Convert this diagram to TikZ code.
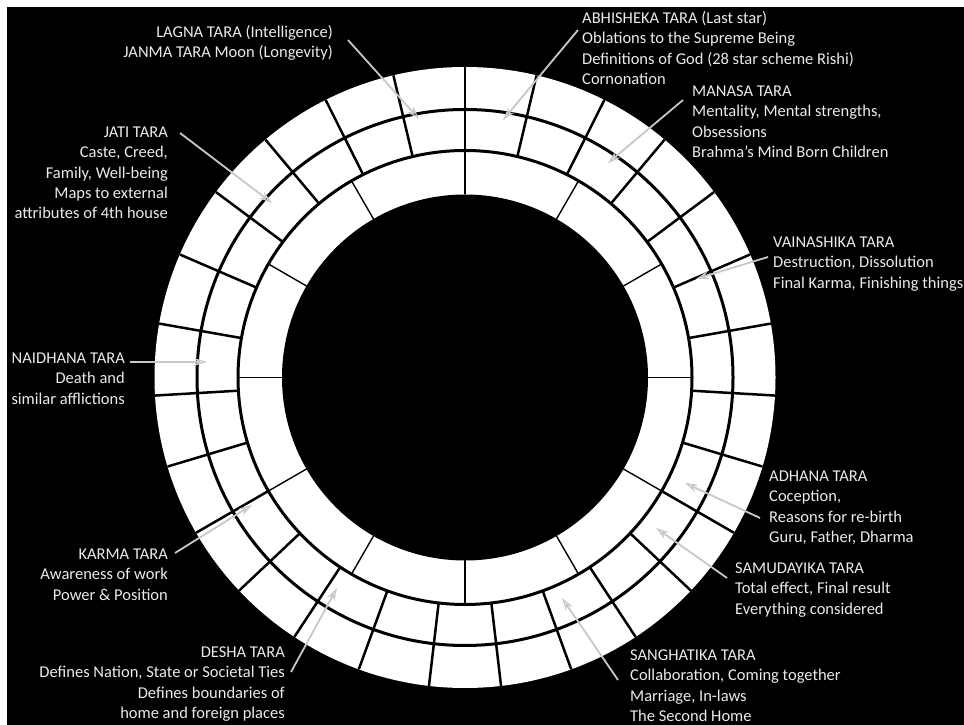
\documentclass[tikz,border=0pt]{standalone}
\usepackage{fontspec}
\setmainfont{Carlito}
\usetikzlibrary{arrows.meta}
\definecolor{txt}{HTML}{EBEBEB}
\definecolor{arr}{HTML}{C8C8C8}
\begin{document}
\begin{tikzpicture}[x=1pt,y=1pt,
  lbl/.style={inner sep=0pt, text=txt, font=\fontsize{16.5}{20.3}\selectfont},
  lblL/.style={lbl, anchor=north west, align=left},
  lblR/.style={lbl, anchor=north east, align=right},
  pointer/.style={draw=arr, line width=1.8pt, -{Stealth[open, length=13pt, width=8pt, line width=1.3pt]}},
  ringline/.style={line width=3pt},
  spoke/.style={line width=2.5pt},
  thinspoke/.style={line width=1.4pt}]
\useasboundingbox (0,0) rectangle (964,725);
\fill[white] (0,0) rectangle (964,725);
\fill[black] (7,0) rectangle (964,718);
\coordinate (C) at (465,347.5);
% wheel
\fill[white] (C) circle[radius=310.5];
\foreach \k in {0,...,26}{
  \draw[spoke] ([shift={({90+\k*360/27}:227)}]C) -- ([shift={({90+\k*360/27}:310.5)}]C);
}
\draw[ringline] (C) circle[radius=268];
\draw[ringline] (C) circle[radius=227];
\foreach \k in {0,...,11}{
  \draw[thinspoke] ([shift={(\k*30:183)}]C) -- ([shift={(\k*30:227)}]C);
}
\fill[black] (C) circle[radius=183];
% labels
\node[lblR] (lagna) at (333,702) {\strut LAGNA TARA (Intelligence)\\JANMA TARA Moon (Longevity)};
\node[lblL] (abhi) at (582,716) {\strut ABHISHEKA TARA (Last star)\\Oblations to the Supreme Being\\Definitions of God (28 star scheme Rishi)\\Cornonation};
\node[lblL] (manasa) at (692,643) {\strut MANASA TARA\\Mentality, Mental strengths,\\Obsessions\\Brahma’s Mind Born Children};
\node[lblR] (jati) at (168,602) {\strut JATI TARA\\Caste, Creed,\\Family, Well-being\\Maps to external\\attributes of 4th house};
\node[lblL] (vaina) at (773,492) {\strut VAINASHIKA TARA\\Destruction, Dissolution\\Final Karma, Finishing things};
\node[lblR] (naidh) at (125,376) {\strut NAIDHANA TARA\\Death and\\similar afflictions};
\node[lblL] (adhana) at (769,258) {\strut ADHANA TARA\\Coception,\\Reasons for re-birth\\Guru, Father, Dharma};
\node[lblL] (samud) at (735,166) {\strut SAMUDAYIKA TARA\\Total effect, Final result\\Everything considered};
\node[lblR] (karma) at (168,180) {\strut KARMA TARA\\Awareness of work\\Power \& Position};
\node[lblR] (desha) at (285,82) {\strut DESHA TARA\\Defines Nation, State or Societal Ties\\Defines boundaries of\\home and foreign places};
\node[lblL] (sangh) at (630,79) {\strut SANGHATIKA TARA\\Collaboration, Coming together\\Marriage, In-laws\\The Second Home};
% arrow ends
\coordinate (lagnaS) at (348,685);  \coordinate (lagnaT) at (419,606);
\coordinate (abhiS) at (578,695);   \coordinate (abhiT) at (503,605);
\coordinate (manasaS) at (683,625); \coordinate (manasaT) at (608,562);
\coordinate (jatiS) at (180,592);   \coordinate (jatiT) at (272,522);
\coordinate (vainaS) at (768,468);  \coordinate (vainaT) at (696,446);
\coordinate (naidhS) at (130,363);  \coordinate (naidhT) at (207,363);
\coordinate (adhanaS) at (760,207); \coordinate (adhanaT) at (685,242);
\coordinate (samudS) at (727,147);  \coordinate (samudT) at (656,197);
\coordinate (karmaS) at (175,172);  \coordinate (karmaT) at (252,220);
\coordinate (deshaS) at (291,53);   \coordinate (deshaT) at (337,137);
\coordinate (sanghS) at (618,45);   \coordinate (sanghT) at (562,127);
\foreach \n in {lagna,abhi,manasa,jati,vaina,naidh,adhana,samud,karma,desha,sangh}{
  \draw[pointer] (\n S) -- (\n T);
}
\end{tikzpicture}
\end{document}
